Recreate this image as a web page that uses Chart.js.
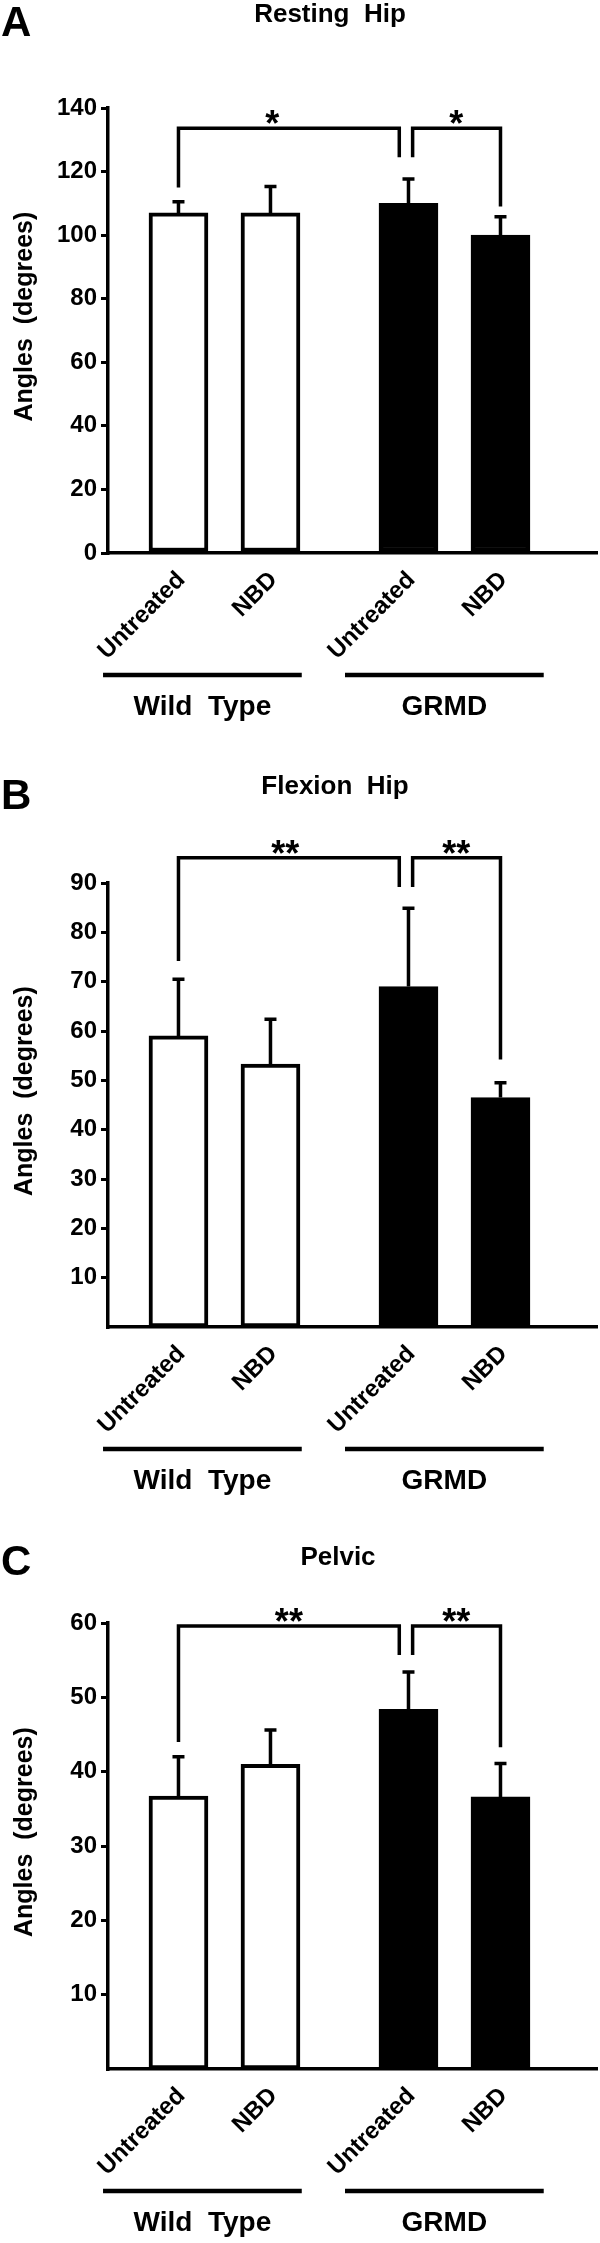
<!DOCTYPE html>
<html>
<head>
<meta charset="utf-8">
<title>Resting hip, flexion hip and pelvic angles</title>
<script src="https://cdn.jsdelivr.net/npm/chart.js@4.4.1/dist/chart.umd.min.js"></script>
<style>
  body { margin: 0; background: #fff; }
  #page { position: relative; width: 600px; height: 2243px; overflow: hidden; color: #000;
          font-family: "Liberation Sans", Arial, sans-serif; }
  canvas { position: absolute; left: 0; }
  .letter { position: absolute; left: 1px; font-size: 42px; font-weight: bold; line-height: 1; }
  .title { position: absolute; width: 240px; text-align: center; font-size: 26px; font-weight: bold;
           line-height: 1; white-space: pre; }
</style>
</head>
<body>
<div id="page">
  <canvas id="chartA" width="600" height="760" style="top:0px"></canvas>
  <canvas id="chartB" width="600" height="770" style="top:740px"></canvas>
  <canvas id="chartC" width="600" height="753" style="top:1490px"></canvas>

  <div class="letter" style="top:1px">A</div>
  <div class="title" style="top:0px; left:210px">Resting  Hip</div>
  <div class="letter" style="top:774px">B</div>
  <div class="title" style="top:772px; left:215px">Flexion  Hip</div>
  <div class="letter" style="top:1540px">C</div>
  <div class="title" style="top:1543px; left:218px">Pelvic</div>
</div>

<script>
// shared categories
const barLabels = ["Untreated", "NBD", "Untreated", "NBD"];
const barX = [1, 2, 3.5, 4.5];
const barColors = ["#ffffff", "#ffffff", "#000000", "#000000"];
const groupNames = ["Wild  Type", "GRMD"];
const groupFrom = [0.18, 2.81];
const groupTo = [2.34, 4.97];
const sigLegX = [1, 3.4, 3.545, 4.5];

// A - resting hip
const restingMeans = [107, 107, 110, 100];
const restingErrors = [3.5, 8.3, 7.7, 5.8];
const restingTicks = [0, 20, 40, 60, 80, 100, 120, 140];
const restingSigTop = 133.6;
const restingSigLegs = [115, 124.5, 124.5, 109];
const restingSigMarks = ["*", "*"];
const restingSigMarkX = [2.02, 4.02];

// B - flexion hip
const flexionMeans = [59, 53.3, 69, 46.5];
const flexionErrors = [11.5, 9.1, 15.9, 3.0];
const flexionTicks = [10, 20, 30, 40, 50, 60, 70, 80, 90];
const flexionSigTop = 95.1;
const flexionSigLegs = [74.2, 89.2, 89.2, 54.2];
const flexionSigMarks = ["**", "**"];
const flexionSigMarkX = [2.16, 4.02];

// C - pelvic
const pelvicMeans = [36.7, 41.0, 48.4, 36.6];
const pelvicErrors = [5.3, 4.6, 5.0, 4.5];
const pelvicTicks = [10, 20, 30, 40, 50, 60];
const pelvicSigTop = 59.6;
const pelvicSigLegs = [44, 55.7, 55.7, 43.3];
const pelvicSigMarks = ["**", "**"];
const pelvicSigMarkX = [2.2, 4.02];

const FONT = '"Liberation Sans", Arial, sans-serif';
Chart.defaults.font.family = FONT;
Chart.defaults.color = "#000";

function makeChart(id, frame, p) {
  const ctx = document.getElementById(id).getContext("2d");
  const bars = barX.map((x, i) => ({ x: x, y: p.means[i] }));
  const leftBracket = [
    { x: sigLegX[0], y: p.sigLegs[0] }, { x: sigLegX[0], y: p.sigTop },
    { x: sigLegX[1], y: p.sigTop }, { x: sigLegX[1], y: p.sigLegs[1] }
  ];
  const rightBracket = [
    { x: sigLegX[2], y: p.sigLegs[2] }, { x: sigLegX[2], y: p.sigTop },
    { x: sigLegX[3], y: p.sigTop }, { x: sigLegX[3], y: p.sigLegs[3] }
  ];
  const bracketStyle = {
    type: "line", borderColor: "#000", borderWidth: 3.5, pointRadius: 0, fill: false,
    tension: 0, clip: false, borderCapStyle: "butt", borderJoinStyle: "miter"
  };

  const extras = {
    id: "extras",
    afterDatasetsDraw(chart) {
      const c = chart.ctx, xs = chart.scales.x, ys = chart.scales.y, area = chart.chartArea;
      c.save();
      c.strokeStyle = "#000";
      c.fillStyle = "#000";
      // error bars (upper only)
      c.lineWidth = 3.5;
      barX.forEach((bx, i) => {
        const px = xs.getPixelForValue(bx);
        const y0 = ys.getPixelForValue(p.means[i]);
        const y1 = ys.getPixelForValue(p.means[i] + p.errors[i]);
        c.beginPath();
        c.moveTo(px, y0); c.lineTo(px, y1);
        c.moveTo(px - 6, y1); c.lineTo(px + 6, y1);
        c.stroke();
      });
      // significance marks
      c.font = "bold 36px " + FONT;
      c.textAlign = "center";
      c.textBaseline = "alphabetic";
      const topPx = ys.getPixelForValue(p.sigTop);
      p.sigMarks.forEach((m, i) => c.fillText(m, xs.getPixelForValue(p.sigMarkX[i]), topPx + 8));
      // group lines and names
      c.lineWidth = 4.5;
      c.font = "bold 28px " + FONT;
      groupNames.forEach((g, i) => {
        const a = xs.getPixelForValue(groupFrom[i]);
        const b = xs.getPixelForValue(groupTo[i]);
        c.beginPath();
        c.moveTo(a, area.bottom + 122); c.lineTo(b, area.bottom + 122);
        c.stroke();
        c.fillText(g, (a + b) / 2, area.bottom + 162);
      });
      c.restore();
    }
  };

  return new Chart(ctx, {
    type: "bar",
    data: {
      datasets: [
        { type: "bar", data: bars, backgroundColor: barColors, borderColor: "#000",
          borderWidth: 4, borderSkipped: false, barThickness: 59 },
        Object.assign({ data: leftBracket }, bracketStyle),
        Object.assign({ data: rightBracket }, bracketStyle)
      ]
    },
    options: {
      responsive: false,
      animation: false,
      events: [],
      layout: { padding: { top: frame.areaTop - frame.top, right: 3, bottom: 0, left: 0 } },
      plugins: { legend: { display: false }, tooltip: { enabled: false } },
      scales: {
        x: {
          type: "linear", min: 0.234, max: 5.549, offset: false,
          grid: { display: false, drawTicks: false },
          border: { display: true, color: "#000", width: 3.5 },
          afterBuildTicks: (s) => { s.ticks = barX.map((v) => ({ value: v })); },
          afterFit: (s) => { s.height = frame.top + frame.height - frame.areaBottom; },
          ticks: {
            autoSkip: false, minRotation: 45, maxRotation: 45, padding: 13, labelOffset: 3,
            color: "#000", font: { size: 24, weight: "bold" },
            callback: (v, i) => barLabels[i]
          }
        },
        y: {
          min: 0, max: p.yMax,
          afterBuildTicks: (s) => { s.ticks = p.ticks.map((v) => ({ value: v })); },
          afterFit: (s) => { s.width = 108; },
          grid: { display: true, drawOnChartArea: false, drawTicks: true, tickLength: 7,
                  lineWidth: 3, color: "#000" },
          border: { display: true, color: "#000", width: 3.5 },
          ticks: { padding: 4, color: "#000", font: { size: 24, weight: "bold" } },
          title: { display: true, text: "    Angles  (degrees)", color: "#000",
                   font: { size: 25, weight: "bold" }, padding: { top: 10, bottom: 0 } }
        }
      }
    },
    plugins: [extras]
  });
}

makeChart("chartA", { top: 0, height: 760, areaTop: 108, areaBottom: 553 }, {
  means: restingMeans, errors: restingErrors, ticks: restingTicks, yMax: 140,
  sigTop: restingSigTop, sigLegs: restingSigLegs, sigMarks: restingSigMarks, sigMarkX: restingSigMarkX
});
makeChart("chartB", { top: 740, height: 770, areaTop: 883, areaBottom: 1327 }, {
  means: flexionMeans, errors: flexionErrors, ticks: flexionTicks, yMax: 90,
  sigTop: flexionSigTop, sigLegs: flexionSigLegs, sigMarks: flexionSigMarks, sigMarkX: flexionSigMarkX
});
makeChart("chartC", { top: 1490, height: 753, areaTop: 1623, areaBottom: 2069 }, {
  means: pelvicMeans, errors: pelvicErrors, ticks: pelvicTicks, yMax: 60,
  sigTop: pelvicSigTop, sigLegs: pelvicSigLegs, sigMarks: pelvicSigMarks, sigMarkX: pelvicSigMarkX
});
</script>
</body>
</html>
